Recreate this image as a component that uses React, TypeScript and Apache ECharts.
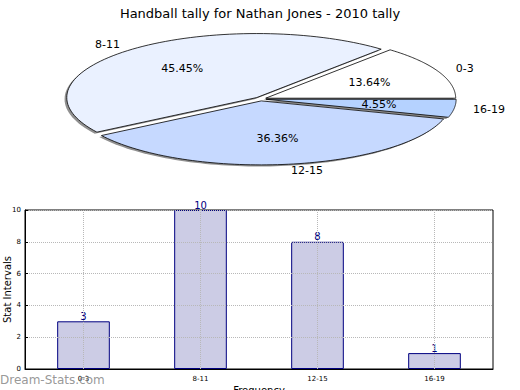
import React, { useEffect, useRef } from "react";
import * as echarts from "echarts";

const categories = ["0-3", "8-11", "12-15", "16-19"];
const values = [3, 10, 8, 1];
const pieColors = ["#FFFFFF", "#EAF1FF", "#C6D9FF", "#B5D2FF"];
const yTicks = [0, 2, 4, 6, 8, 10];
const titleText = "Handball tally for Nathan Jones - 2010 tally";

const FONT = "DejaVu Sans";

// pie geometry (layout only)
const PCX = 260.5;
const PCY = 99;
const RX = 190;
const RY = 64;
const EXPLODE = 0.03;

function sliceGeom(i: number) {
  const total = values.reduce((a, b) => a + b, 0);
  let before = 0;
  for (let k = 0; k < i; k++) before += values[k];
  const a1 = (before / total) * Math.PI * 2;
  const a2 = ((before + values[i]) / total) * Math.PI * 2;
  const mid = (a1 + a2) / 2;
  const ox = EXPLODE * RX * Math.cos(mid);
  const oy = -EXPLODE * RY * Math.sin(mid);
  return { total, a1, a2, mid, ox, oy };
}

function slicePoints(i: number, dx: number, dy: number) {
  const g = sliceGeom(i);
  const cx = PCX + g.ox + dx;
  const cy = PCY + g.oy + dy;
  const pts: number[][] = [[cx, cy]];
  const steps = 80;
  for (let s = 0; s <= steps; s++) {
    const a = g.a1 + ((g.a2 - g.a1) * s) / steps;
    pts.push([cx + RX * Math.cos(a), cy - RY * Math.sin(a)]);
  }
  return pts;
}

export default function App() {
  const ref = useRef<HTMLDivElement>(null);
  useEffect(() => {
    if (!ref.current) return;
    const chart = echarts.init(ref.current, undefined, { renderer: "svg" });
    const pieData = categories.map((c, i) => ({ name: c, value: values[i] }));
    chart.setOption({
      animation: false,
      backgroundColor: "#ffffff",
      textStyle: { fontFamily: FONT },
      title: {
        text: titleText,
        left: "center",
        top: 2,
        textStyle: { fontFamily: FONT, fontSize: 13, fontWeight: "normal", color: "#000" },
      },
      grid: {
        left: 25,
        right: 27,
        top: 210,
        bottom: 21,
        outerBoundsMode: "none",
        containLabel: false,
        show: true,
        borderColor: "#000",
        borderWidth: 1,
        backgroundColor: "transparent",
      },
      xAxis: {
        type: "category",
        data: categories,
        z: 3,
        name: "Frequency",
        nameLocation: "middle",
        nameGap: 16,
        nameMoveOverlap: false,
        nameTextStyle: { fontFamily: FONT, fontSize: 10, color: "#000" },
        axisLine: { lineStyle: { color: "#000" } },
        axisTick: { show: false },
        axisLabel: { fontFamily: FONT, fontSize: 7, color: "#000", margin: 6 },
        splitLine: { show: false },
      },
      yAxis: {
        type: "value",
        min: yTicks[0],
        max: yTicks[yTicks.length - 1],
        interval: 2,
        z: 3,
        name: "Stat Intervals",
        nameLocation: "middle",
        nameGap: 13,
        nameMoveOverlap: false,
        nameTextStyle: { fontFamily: FONT, fontSize: 10, color: "#000" },
        axisLine: { show: true, lineStyle: { color: "#000" } },
        axisTick: { show: true, inside: true, length: 3, lineStyle: { color: "#000" } },
        axisLabel: { fontFamily: FONT, fontSize: 7, color: "#000", margin: 4 },
        splitLine: { show: true, lineStyle: { color: "#b8b8b8", type: "dotted", width: 1 } },
      },
      graphic: [
        {
          type: "text",
          left: 0,
          top: 374,
          z: 100,
          style: {
            text: "Dream-Stats.com",
            fontFamily: FONT,
            fontSize: 12,
            fill: "rgba(140,140,140,0.9)",
          },
        },
      ],
      series: [
        {
          type: "custom",
          coordinateSystem: "none",
          z: 1,
          silent: true,
          data: pieData,
          renderItem: (params: any) => {
            const i = params.dataIndex;
            return {
              type: "polygon",
              shape: { points: slicePoints(i, -2.2, 1.6) },
              style: { fill: "#909090", stroke: "none" },
            };
          },
        },
        {
          type: "custom",
          coordinateSystem: "none",
          z: 2,
          silent: true,
          data: pieData,
          renderItem: (params: any, api: any) => {
            const i = params.dataIndex;
            const v = api.value(0);
            const g = sliceGeom(i);
            const c = Math.cos(g.mid);
            const s = Math.sin(g.mid);
            const bx = PCX + g.ox;
            const by = PCY + g.oy;
            return {
              type: "group",
              children: [
                {
                  type: "polygon",
                  shape: { points: slicePoints(i, 0, 0) },
                  style: { fill: pieColors[i], stroke: "#000", lineWidth: 0.8 },
                },
                {
                  type: "text",
                  x: bx + 1.1 * RX * c,
                  y: by - 1.1 * RY * s,
                  style: {
                    text: categories[i],
                    fontFamily: FONT,
                    fontSize: 11,
                    fill: "#000",
                    align: c >= 0 ? "left" : "right",
                    verticalAlign: "middle",
                  },
                },
                {
                  type: "text",
                  x: bx + 0.6 * RX * c,
                  y: by - 0.6 * RY * s,
                  style: {
                    text: ((v / g.total) * 100).toFixed(2) + "%",
                    fontFamily: FONT,
                    fontSize: 11,
                    fill: "#000",
                    align: "center",
                    verticalAlign: "middle",
                  },
                },
              ],
            };
          },
        },
        {
          type: "bar",
          data: values,
          barWidth: "45%",
          z: 2,
          itemStyle: { color: "#CCCCE5", borderColor: "#000080", borderWidth: 1 },
          label: {
            show: true,
            position: "top",
            distance: 0,
            fontFamily: FONT,
            fontSize: 10,
            color: "#000080",
          },
          markLine: {
            silent: true,
            symbol: "none",
            label: { show: false },
            lineStyle: { color: "#b8b8b8", type: "dotted", width: 1 },
            data: categories.map((c) => ({ xAxis: c })),
          },
        },
      ],
    });
    return () => chart.dispose();
  }, []);
  return (
    <div
      ref={ref}
      style={{ position: "fixed", left: 0, top: 0, width: 520, height: 390 }}
    />
  );
}
